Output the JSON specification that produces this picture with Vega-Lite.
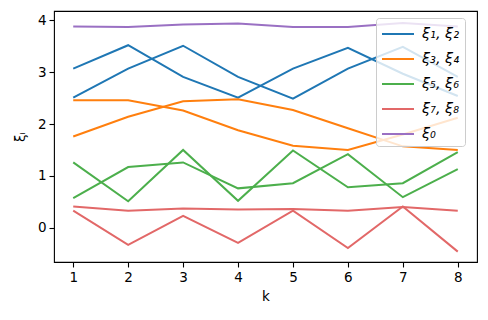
{
  "$schema": "https://vega.github.io/schema/vega-lite/v6.json",
  "width": 423,
  "height": 251,
  "autosize": {"type": "none"},
  "padding": {"left": 54, "top": 11, "right": 11, "bottom": 58},
  "background": "white",
  "config": {
    "font": "DejaVu Sans",
    "view": {"stroke": "black", "strokeWidth": 1.1},
    "axis": {"grid": false, "domain": false, "tickColor": "black", "tickSize": 5, "tickWidth": 1.1, "labelFontSize": 13.5, "labelColor": "black", "titleFontSize": 13.5, "titleFontWeight": "normal", "titleColor": "black", "labelPadding": 3}
  },
  "data": {"values": [
    {"k":1,"s":"x1","p":"ξ₁, ξ₂","v":3.07},{"k":2,"s":"x1","p":"ξ₁, ξ₂","v":3.52},{"k":3,"s":"x1","p":"ξ₁, ξ₂","v":2.91},{"k":4,"s":"x1","p":"ξ₁, ξ₂","v":2.51},{"k":5,"s":"x1","p":"ξ₁, ξ₂","v":3.07},{"k":6,"s":"x1","p":"ξ₁, ξ₂","v":3.47},{"k":7,"s":"x1","p":"ξ₁, ξ₂","v":2.97},{"k":8,"s":"x1","p":"ξ₁, ξ₂","v":2.54},
    {"k":1,"s":"x2","p":"ξ₁, ξ₂","v":2.51},{"k":2,"s":"x2","p":"ξ₁, ξ₂","v":3.07},{"k":3,"s":"x2","p":"ξ₁, ξ₂","v":3.51},{"k":4,"s":"x2","p":"ξ₁, ξ₂","v":2.91},{"k":5,"s":"x2","p":"ξ₁, ξ₂","v":2.49},{"k":6,"s":"x2","p":"ξ₁, ξ₂","v":3.07},{"k":7,"s":"x2","p":"ξ₁, ξ₂","v":3.49},{"k":8,"s":"x2","p":"ξ₁, ξ₂","v":2.91},
    {"k":1,"s":"x3","p":"ξ₃, ξ₄","v":2.46},{"k":2,"s":"x3","p":"ξ₃, ξ₄","v":2.46},{"k":3,"s":"x3","p":"ξ₃, ξ₄","v":2.26},{"k":4,"s":"x3","p":"ξ₃, ξ₄","v":1.88},{"k":5,"s":"x3","p":"ξ₃, ξ₄","v":1.58},{"k":6,"s":"x3","p":"ξ₃, ξ₄","v":1.50},{"k":7,"s":"x3","p":"ξ₃, ξ₄","v":1.80},{"k":8,"s":"x3","p":"ξ₃, ξ₄","v":2.12},
    {"k":1,"s":"x4","p":"ξ₃, ξ₄","v":1.76},{"k":2,"s":"x4","p":"ξ₃, ξ₄","v":2.14},{"k":3,"s":"x4","p":"ξ₃, ξ₄","v":2.44},{"k":4,"s":"x4","p":"ξ₃, ξ₄","v":2.48},{"k":5,"s":"x4","p":"ξ₃, ξ₄","v":2.27},{"k":6,"s":"x4","p":"ξ₃, ξ₄","v":1.92},{"k":7,"s":"x4","p":"ξ₃, ξ₄","v":1.57},{"k":8,"s":"x4","p":"ξ₃, ξ₄","v":1.50},
    {"k":1,"s":"x5","p":"ξ₅, ξ₆","v":1.26},{"k":2,"s":"x5","p":"ξ₅, ξ₆","v":0.51},{"k":3,"s":"x5","p":"ξ₅, ξ₆","v":1.50},{"k":4,"s":"x5","p":"ξ₅, ξ₆","v":0.52},{"k":5,"s":"x5","p":"ξ₅, ξ₆","v":1.49},{"k":6,"s":"x5","p":"ξ₅, ξ₆","v":0.78},{"k":7,"s":"x5","p":"ξ₅, ξ₆","v":0.86},{"k":8,"s":"x5","p":"ξ₅, ξ₆","v":1.46},
    {"k":1,"s":"x6","p":"ξ₅, ξ₆","v":0.57},{"k":2,"s":"x6","p":"ξ₅, ξ₆","v":1.17},{"k":3,"s":"x6","p":"ξ₅, ξ₆","v":1.26},{"k":4,"s":"x6","p":"ξ₅, ξ₆","v":0.76},{"k":5,"s":"x6","p":"ξ₅, ξ₆","v":0.86},{"k":6,"s":"x6","p":"ξ₅, ξ₆","v":1.42},{"k":7,"s":"x6","p":"ξ₅, ξ₆","v":0.59},{"k":8,"s":"x6","p":"ξ₅, ξ₆","v":1.13},
    {"k":1,"s":"x7","p":"ξ₇, ξ₈","v":0.41},{"k":2,"s":"x7","p":"ξ₇, ξ₈","v":0.33},{"k":3,"s":"x7","p":"ξ₇, ξ₈","v":0.37},{"k":4,"s":"x7","p":"ξ₇, ξ₈","v":0.35},{"k":5,"s":"x7","p":"ξ₇, ξ₈","v":0.36},{"k":6,"s":"x7","p":"ξ₇, ξ₈","v":0.33},{"k":7,"s":"x7","p":"ξ₇, ξ₈","v":0.40},{"k":8,"s":"x7","p":"ξ₇, ξ₈","v":0.33},
    {"k":1,"s":"x8","p":"ξ₇, ξ₈","v":0.33},{"k":2,"s":"x8","p":"ξ₇, ξ₈","v":-0.33},{"k":3,"s":"x8","p":"ξ₇, ξ₈","v":0.23},{"k":4,"s":"x8","p":"ξ₇, ξ₈","v":-0.29},{"k":5,"s":"x8","p":"ξ₇, ξ₈","v":0.33},{"k":6,"s":"x8","p":"ξ₇, ξ₈","v":-0.39},{"k":7,"s":"x8","p":"ξ₇, ξ₈","v":0.41},{"k":8,"s":"x8","p":"ξ₇, ξ₈","v":-0.46},
    {"k":1,"s":"x0","p":"ξ₀","v":3.88},{"k":2,"s":"x0","p":"ξ₀","v":3.87},{"k":3,"s":"x0","p":"ξ₀","v":3.92},{"k":4,"s":"x0","p":"ξ₀","v":3.94},{"k":5,"s":"x0","p":"ξ₀","v":3.87},{"k":6,"s":"x0","p":"ξ₀","v":3.87},{"k":7,"s":"x0","p":"ξ₀","v":3.95},{"k":8,"s":"x0","p":"ξ₀","v":3.88}
  ]},
  "mark": {"type": "line", "strokeWidth": 2, "clip": true},
  "encoding": {
    "x": {"field": "k", "type": "quantitative", "title": "k",
      "scale": {"domain": [0.65, 8.35], "nice": false, "zero": false},
      "axis": {"values": [1,2,3,4,5,6,7,8], "titlePadding": 6}},
    "y": {"field": "v", "type": "quantitative", "title": "ξᵢ",
      "scale": {"domain": [-0.66, 4.18], "nice": false, "zero": false},
      "axis": {"values": [0,1,2,3,4], "titlePadding": 10}},
    "detail": {"field": "s"},
    "color": {"field": "p", "type": "nominal",
      "scale": {"domain": ["ξ₁, ξ₂", "ξ₃, ξ₄", "ξ₅, ξ₆", "ξ₇, ξ₈", "ξ₀"],
                "range": ["#1f77b4", "#ff7f0e", "#4caf4c", "#e26868", "#9a70c3"]},
      "legend": {"title": null, "orient": "none", "legendX": 322, "legendY": 7,
        "fillColor": "rgba(255,255,255,0.8)", "strokeColor": "#cccccc", "cornerRadius": 3,
        "padding": 5, "symbolType": "M-1,0H2.2", "symbolSize": 400, "symbolStrokeWidth": 2,
        "labelOffset": 19, "labelFontSize": 14.5, "labelColor": "black", "rowPadding": 7, "labelFontStyle": "italic"}}
  }
}
